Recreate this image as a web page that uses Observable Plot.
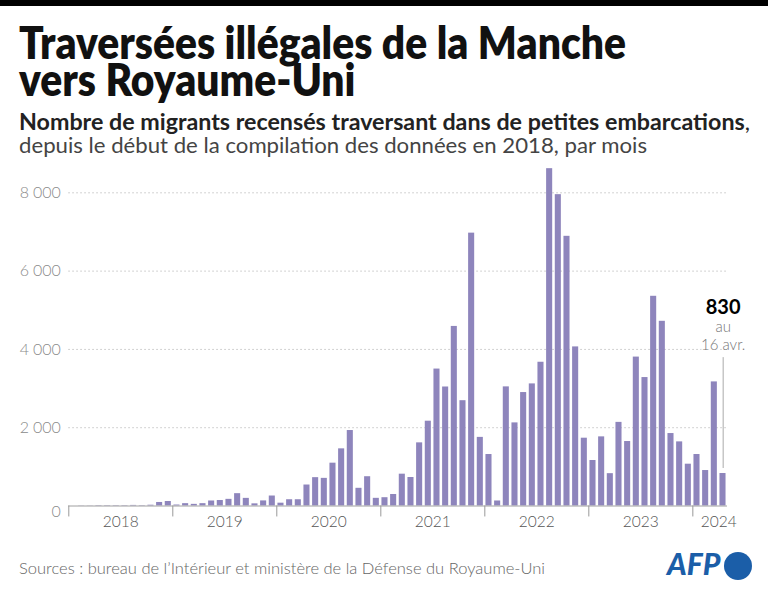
<!DOCTYPE html>
<html><head><meta charset="utf-8">
<script src="https://cdn.jsdelivr.net/npm/d3@7"></script>
<script src="https://cdn.jsdelivr.net/npm/@observablehq/plot@0.6"></script>
<style>
html,body{margin:0;padding:0;background:#fff;}
#page{position:relative;width:768px;height:593px;overflow:hidden;background:#fff;font-family:Lato,"Noto Sans",sans-serif;}
#topbar{position:absolute;left:0;top:0;width:768px;height:6px;background:#000;}
.line{position:absolute;left:19px;white-space:nowrap;transform-origin:0 0;}
#title{top:24px;font-size:45px;line-height:37px;font-weight:800;color:#111;}
#sub1{top:110px;font-size:22px;line-height:23px;font-weight:700;color:#222;}
#sub2{top:133px;font-size:22px;line-height:23px;font-weight:400;color:#444;}
#source{top:561px;font-size:15.5px;line-height:15.5px;font-weight:300;color:#666;}
#chart{position:absolute;left:0;top:160px;}
#logo{position:absolute;left:656px;top:544px;overflow:visible;}
</style></head>
<body><div id="page">
<div id="topbar"></div>
<div id="title" class="line"><span id="t1">Traversées illégales de la Manche</span><br><span>vers Royaume-Uni</span></div>
<div id="sub1" class="line"><span id="s1">Nombre de migrants recensés traversant dans de petites embarcations<span style="font-weight:400">,</span></span></div>
<div id="sub2" class="line"><span id="s2">depuis le début de la compilation des données en 2018, par mois</span></div>
<div id="chart"></div>
<div id="source" class="line"><span id="src">Sources : bureau de l’Intérieur et ministère de la Défense du Royaume-Uni</span></div>
<svg id="logo" width="104" height="44" viewBox="0 0 104 44">
  <text x="11" y="31" font-family="Lato" font-weight="900" font-style="italic" font-size="30" fill="#1b5ea8">AFP</text>
  <circle cx="82" cy="22" r="14" fill="#1b5ea8"/>
</svg>
</div>
<script>
// ---- data (monthly counts) ----
const years = [2018, 2019, 2020, 2021, 2022, 2023, 2024];
const y2018 = [0, 5, 5, 10, 10, 10, 10, 15, 10, 20, 90, 115];
const y2019 = [25, 60, 42, 60, 128, 140, 170, 315, 195, 55, 130, 255];
const y2020 = [72, 160, 160, 536, 724, 706, 1094, 1460, 1928, 452, 748, 196];
const y2021 = [212, 294, 813, 728, 1613, 2166, 3498, 3040, 4587, 2690, 6970, 1753];
const y2022 = [1315, 128, 3043, 2123, 2898, 3119, 3672, 8617, 7953, 6889, 4064, 1732];
const y2023 = [1162, 1766, 826, 2136, 1647, 3804, 3281, 5357, 4718, 1851, 1638, 1068];
const y2024 = [1315, 906, 3170, 830];
const yTicks = [2000, 4000, 6000, 8000];
const annLines = ["au", "16 avr."];

const series = [y2018, y2019, y2020, y2021, y2022, y2023, y2024];
const data = series.flatMap((arr, k) => arr.map((v, m) => ({i: k * 12 + m, v, year: years[k]})));
const nMonths = data.length;
const yearStarts = years.map((y, k) => k * 12);
const yearLabelPos = years.map((y, k) => k * 12 + Math.min(6, series[k].length - 1));
const last = data[data.length - 1];
const fmt = d => d3.format(",")(d).replace(/,/g, "\u202f");
const barColor = "#8e85bc";

const chart = Plot.plot({
  width: 768, height: 375,
  marginLeft: 68.3, marginRight: 41, marginTop: 1, marginBottom: 29.5,
  x: {domain: [0, nMonths], axis: null},
  y: {domain: [0, 8800], axis: null},
  style: {fontFamily: "Lato, 'Noto Sans', sans-serif", background: "transparent", overflow: "visible"},
  marks: [
    Plot.ruleY(yTicks, {stroke: "#c4c4c4", strokeDasharray: "1.5,2.5"}),
    Plot.text(yTicks, {y: d => d, frameAnchor: "left", dx: -8, textAnchor: "end", text: fmt, fontSize: 16, fontWeight: 300, fill: "#8a8a8a"}),
    Plot.text([0], {y: d => d, frameAnchor: "left", dx: -8, dy: 6, textAnchor: "end", text: fmt, fontSize: 16, fontWeight: 300, fill: "#8a8a8a"}),
    Plot.rectY(data, {x1: d => d.i + 0.13, x2: d => d.i + 0.83, y1: 0, y2: "v", fill: barColor}),
    Plot.ruleY([0], {stroke: "#a0a0a0", strokeWidth: 1}),
    Plot.ruleX(yearStarts, {x: d => d, y1: 0, y2: -280, stroke: "#999"}),
    Plot.text(years, {x: (d, k) => yearLabelPos[k], y: 0, dy: 16.5, text: d => String(d), fontSize: 15.5, fontWeight: 300, fill: "#555"}),
    Plot.ruleX([last], {x: d => d.i + 0.5, y1: d => d.v + 128, y2: d => d.v + 2960, stroke: "#aaa"}),
    Plot.text([last], {x: d => d.i + 0.5, y: "v", dy: -166, text: d => fmt(d.v), fontSize: 20, fontWeight: 700, fill: "#000"}),
    Plot.text([last], {x: d => d.i + 0.5, y: "v", dy: -146, text: () => annLines[0], fontSize: 15, fontWeight: 300, fill: "#777", stroke: "white", strokeWidth: 3, paintOrder: "stroke"}),
    Plot.text([last], {x: d => d.i + 0.5, y: "v", dy: -128, text: () => annLines[1], fontSize: 15, fontWeight: 300, fill: "#777", stroke: "white", strokeWidth: 3, paintOrder: "stroke"})
  ]
});
document.getElementById("chart").appendChild(chart);

function fit() {
  const items = [["title", "t1", 607], ["sub1", "s1", 731], ["sub2", "s2", 628], ["source", "src", 526]];
  for (const [boxId, spanId, w] of items) {
    const box = document.getElementById(boxId);
    box.style.transform = "none";
    const mw = document.getElementById(spanId).getBoundingClientRect().width;
    if (mw > 0) box.style.transform = `scaleX(${w / mw})`;
  }
}
fit();
if (document.fonts && document.fonts.ready) document.fonts.ready.then(fit);
</script>
</body></html>
